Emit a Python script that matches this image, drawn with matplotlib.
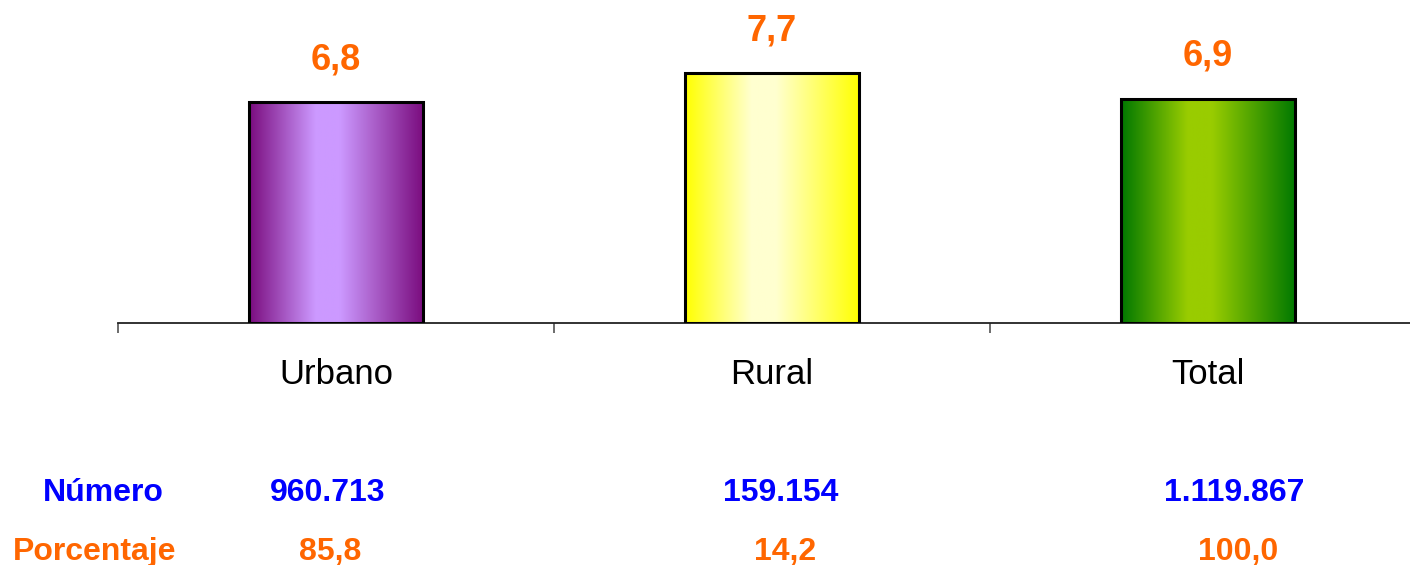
import numpy as np
import matplotlib
matplotlib.use("Agg")
import matplotlib.pyplot as plt
from matplotlib.colors import LinearSegmentedColormap

plt.rcParams['font.family'] = ['Liberation Sans', 'DejaVu Sans']

categories = ['Urbano', 'Rural', 'Total']
tasa = [6.8, 7.7, 6.9]
numero = ['960.713', '159.154', '1.119.867']
porcentaje = ['85,8', '14,2', '100,0']

# colour of each bar: edge shade, centre shade
shades = [('#7a0c7e', '#cc99ff'),
          ('#ffff00', '#ffffd0'),
          ('#007800', '#99cc00')]

ORANGE = '#ff6600'
BLUE = '#0000ff'

W, H = 1410, 565
fig = plt.figure(figsize=(W / 100, H / 100), dpi=100)
# x axis runs past the right edge, like the original sheet
ax = fig.add_axes([118 / W, (H - 323) / H, 1308 / W, 323 / H])

x = np.arange(len(categories))
bars = ax.bar(x, tasa, width=0.4, color='none', edgecolor='black',
              linewidth=2.2, zorder=3)

grad = np.linspace(0, 1, 256).reshape(1, -1)
for b, (dark, light) in zip(bars, shades):
    cmap = LinearSegmentedColormap.from_list(
        'g', [(0, dark), (0.38, light), (0.52, light), (1, dark)])
    x0, y0 = b.get_x(), b.get_y()
    im = ax.imshow(grad, cmap=cmap, aspect='auto', zorder=2,
                   extent=[x0, x0 + b.get_width(), y0, y0 + b.get_height()])
    im.set_clip_path(b)

ax.set_xlim(-0.5, 2.5)
ax.set_ylim(0, 323 / 32.5)

for xi, v in zip(x, tasa):
    ax.text(xi, v + 1.3, f'{v:.1f}'.replace('.', ','), ha='center',
            va='center', fontsize=26, fontweight='bold', color=ORANGE)

for s in ['top', 'right', 'left']:
    ax.spines[s].set_visible(False)
ax.spines['bottom'].set_linewidth(1.3)
ax.spines['bottom'].set_color('#222222')
ax.set_yticks([])
ax.set_xticks([-0.5, 0.5, 1.5, 2.5])
ax.set_xticklabels([])
ax.tick_params(axis='x', length=7, width=1.1, color='#444444')

for xi, c in zip(x, categories):
    ax.text(xi, -0.158, c, transform=ax.get_xaxis_transform(),
            ha='center', va='center', fontsize=25)

# table under the chart
row_y = [1 - 493 / H, 1 - 552 / H]
fig.text(103 / W, row_y[0], 'Número', ha='center', va='center',
         fontsize=23, fontweight='bold', color=BLUE)
fig.text(95 / W, row_y[1], 'Porcentaje', ha='center', va='center',
         fontsize=23, fontweight='bold', color=ORANGE)

col_n = [-0.02, 1.02, 2.06]
col_p = [-0.014, 1.03, 2.07]
tr = ax.get_xaxis_transform()
for cx, s in zip(col_n, numero):
    ax.text(cx, (323 - 493) / 323, s, transform=tr, ha='center',
            va='center', fontsize=23, fontweight='bold', color=BLUE)
for cx, s in zip(col_p, porcentaje):
    ax.text(cx, (323 - 552) / 323, s, transform=tr, ha='center',
            va='center', fontsize=23, fontweight='bold', color=ORANGE)

fig.savefig('out.png', dpi=100)
